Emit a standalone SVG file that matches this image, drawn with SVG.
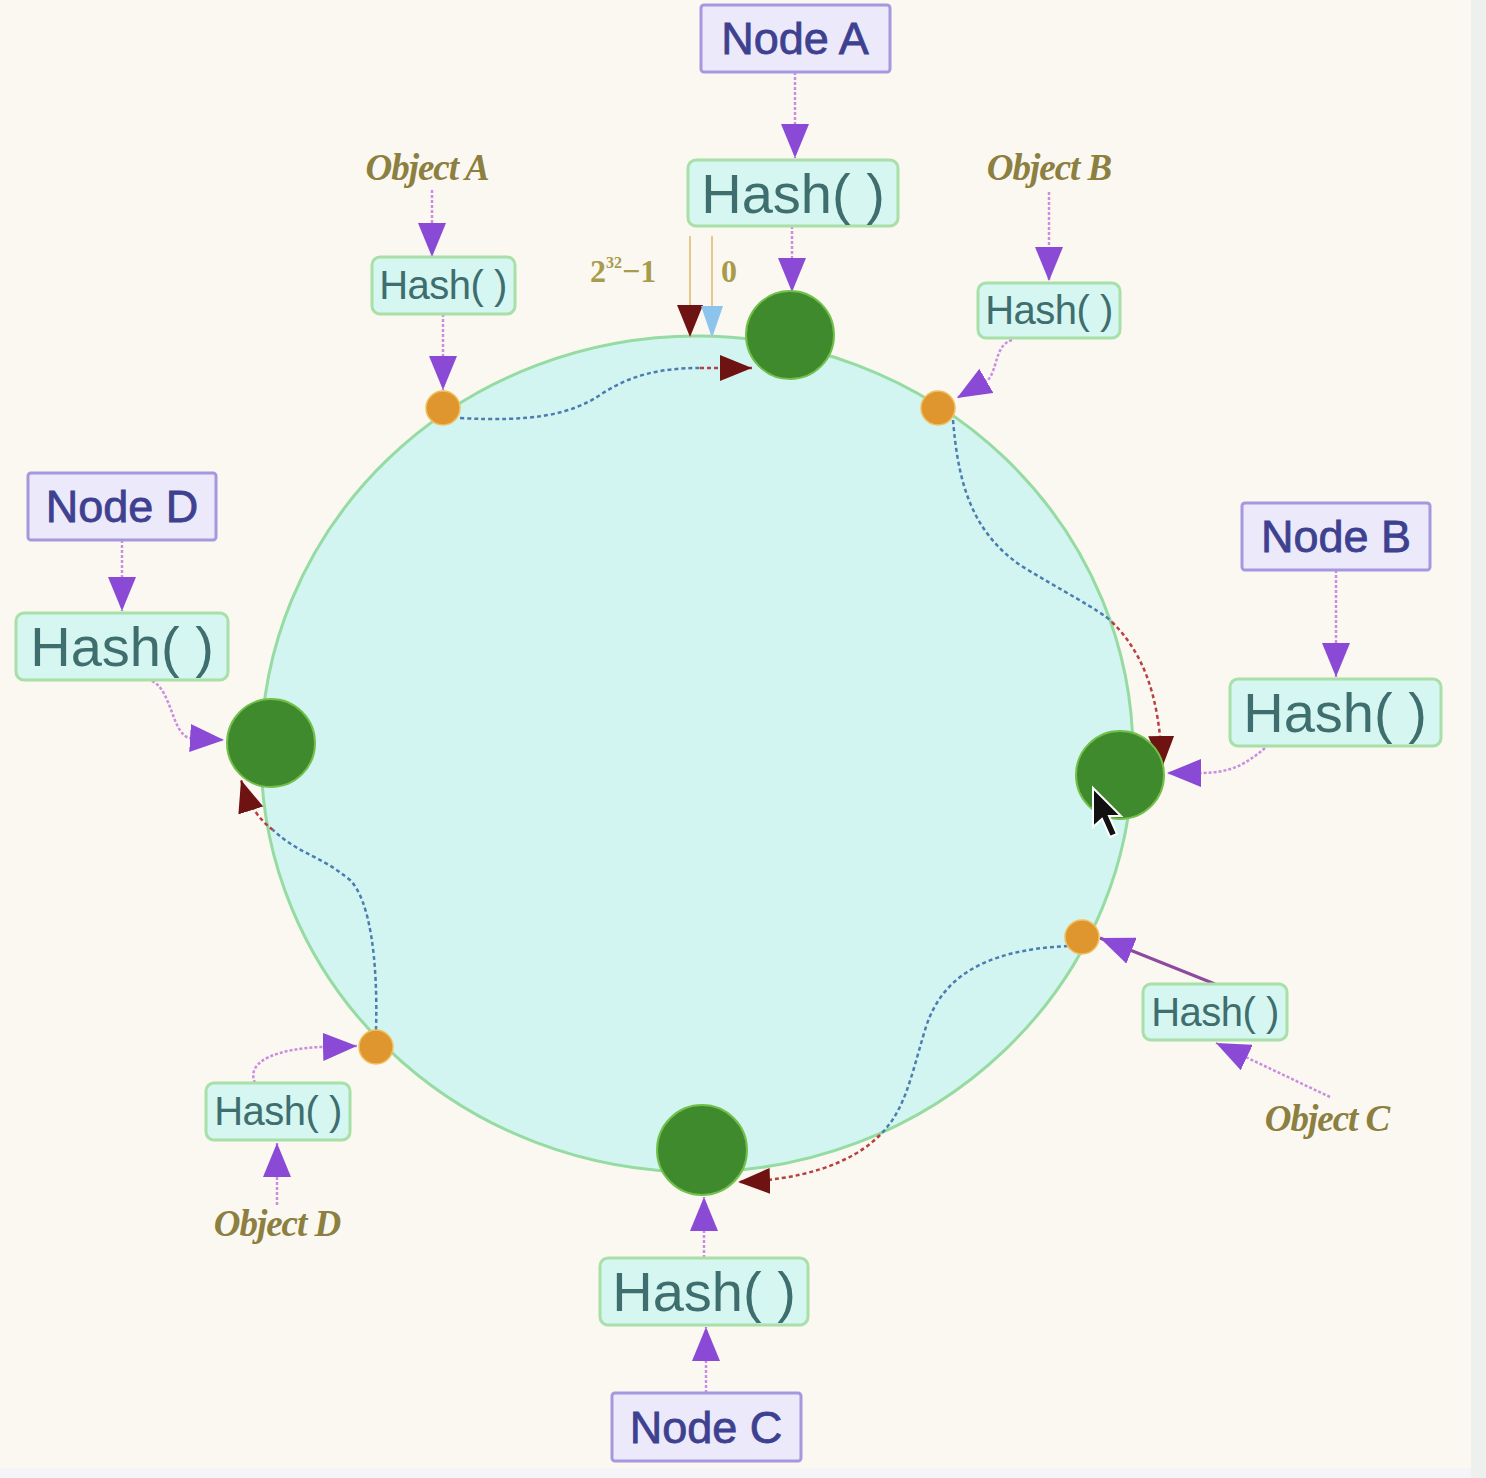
<svg xmlns="http://www.w3.org/2000/svg" width="1486" height="1478" viewBox="0 0 1486 1478">
<defs>
<style>
.bg{fill:#fbf8f2}
.ring{fill:#d3f5f1;stroke:#95dba2;stroke-width:3}
.nodebox{fill:#ece9fb;stroke:#a698de;stroke-width:3}
.hashbox{fill:#d6f6f2;stroke:#a8e0a8;stroke-width:3}
.nodetxt{font-family:"Liberation Sans",Arial,sans-serif;font-size:45px;fill:#3d418f;stroke:#3d418f;stroke-width:0.8;text-anchor:middle}
.hashbig{font-family:"Liberation Sans",Arial,sans-serif;font-size:56px;fill:#3e6e6e;text-anchor:middle}
.hashsm{font-family:"Liberation Sans",Arial,sans-serif;font-size:40px;fill:#3e6e6e;text-anchor:middle;letter-spacing:-0.5px}
.objtxt{font-family:"Liberation Serif","Times New Roman",serif;font-style:italic;font-weight:bold;font-size:37px;fill:#8c7f40;text-anchor:middle;letter-spacing:-1px}
.num{font-family:"Liberation Serif","Times New Roman",serif;font-weight:bold;font-size:32px;fill:#a89c4c}
.green{fill:#3f8a2c;stroke:#72c04c;stroke-width:2}
.orange{fill:#e0962e;stroke:#f0c060;stroke-width:1.5}
.pl{fill:none;stroke:#c98ee0;stroke-width:2.5;stroke-dasharray:3 2}
.plsolid{fill:none;stroke:#8e4a9c;stroke-width:3}
.bl{fill:none;stroke:#4c7cb0;stroke-width:2.5;stroke-dasharray:4 3}
.rl{fill:none;stroke:#b84040;stroke-width:2.5;stroke-dasharray:4 3}
</style>
<marker id="pa" viewBox="0 0 34 28" refX="34" refY="14" markerWidth="34" markerHeight="28" markerUnits="userSpaceOnUse" orient="auto"><path d="M0,0 L34,14 L0,28 z" fill="#8a4ad6"/></marker>
<marker id="ra" viewBox="0 0 32 26" refX="32" refY="13" markerWidth="32" markerHeight="26" markerUnits="userSpaceOnUse" orient="auto"><path d="M0,0 L32,13 L0,26 z" fill="#6e1212"/></marker>
<marker id="ba" viewBox="0 0 32 22" refX="32" refY="11" markerWidth="32" markerHeight="22" markerUnits="userSpaceOnUse" orient="auto"><path d="M0,0 L32,11 L0,22 z" fill="#8cc4ec"/></marker>
</defs>

<rect class="bg" x="0" y="0" width="1486" height="1478"/>
<rect x="1471" y="0" width="15" height="1478" fill="#eef0ee"/>
<rect x="0" y="1468" width="1471" height="10" fill="#f5f5f7"/>

<g id="ring">
<ellipse class="ring" cx="697" cy="754" rx="436" ry="418"/>
</g>

<g id="connectors">
<path class="pl" d="M795,72 L795,158" marker-end="url(#pa)"/>
<path class="pl" d="M792,226 L792,292" marker-end="url(#pa)"/>
<path class="pl" d="M432,190 L432,257" marker-end="url(#pa)"/>
<path class="pl" d="M443,314 L443,390" marker-end="url(#pa)"/>
<path class="pl" d="M1049,192 L1049,281" marker-end="url(#pa)"/>
<path class="pl" d="M1012,340 C995,345 998,368 988,380 L957,398" marker-end="url(#pa)"/>
<path class="pl" d="M1336,570 L1336,677" marker-end="url(#pa)"/>
<path class="pl" d="M1265,748 C1245,765 1230,773 1200,773 L1167,773" marker-end="url(#pa)"/>
<path class="plsolid" d="M1215,984 L1100,938" marker-end="url(#pa)"/>
<path class="pl" d="M1330,1097 L1216,1043" marker-end="url(#pa)"/>
<path class="pl" d="M277,1205 L277,1143" marker-end="url(#pa)"/>
<path class="pl" d="M255,1083 C245,1060 280,1049 320,1047 L357,1046" marker-end="url(#pa)"/>
<path class="pl" d="M706,1393 L706,1327" marker-end="url(#pa)"/>
<path class="pl" d="M704,1258 L704,1197" marker-end="url(#pa)"/>
<path class="pl" d="M122,540 L122,611" marker-end="url(#pa)"/>
<path class="pl" d="M152,681 C172,690 172,735 190,738 L224,740" marker-end="url(#pa)"/>
<path class="bl" d="M460,418 C530,422 570,415 600,395 C630,375 660,368 700,368"/>
<path class="rl" d="M700,368 L752,368" marker-end="url(#ra)"/>
<path class="bl" d="M953,420 C958,480 970,530 1020,565 C1060,590 1100,610 1112,622"/>
<path class="rl" d="M1112,622 C1140,650 1160,690 1162,768" marker-end="url(#ra)"/>
<path class="bl" d="M1068,946 C980,950 940,980 925,1030 C910,1080 905,1110 880,1135"/>
<path class="rl" d="M880,1135 C850,1165 800,1180 738,1182" marker-end="url(#ra)"/>
<path class="bl" d="M376,1030 C378,960 370,900 350,880 C320,855 300,855 273,830"/>
<path class="rl" d="M273,830 C260,820 250,808 241,780" marker-end="url(#ra)"/>
<path d="M690,236 L690,337" stroke="#e8c88a" stroke-width="2" fill="none" marker-end="url(#ra)"/>
<path d="M712,236 L712,338" stroke="#e8c88a" stroke-width="2" fill="none" marker-end="url(#ba)"/>
</g>

<g id="ring-labels">
<text class="num" x="590" y="282">2<tspan font-size="16" dy="-14">32</tspan><tspan dy="14">−1</tspan></text>
<text class="num" x="721" y="282">0</text>
</g>

<g id="nodeA">
<rect class="nodebox" x="701" y="5" width="189" height="67" rx="3"/>
<text class="nodetxt" x="795" y="54">Node A</text>
</g>
<g id="hashA">
<rect class="hashbox" x="688" y="160" width="210" height="66" rx="8"/>
<text class="hashbig" x="793" y="213">Hash( )</text>
</g>
<g id="pointA"><circle class="green" cx="790" cy="335" r="44"/></g>

<g id="nodeB">
<rect class="nodebox" x="1242" y="503" width="188" height="67" rx="3"/>
<text class="nodetxt" x="1336" y="552">Node B</text>
</g>
<g id="hashB">
<rect class="hashbox" x="1230" y="679" width="211" height="67" rx="8"/>
<text class="hashbig" x="1335" y="732">Hash( )</text>
</g>
<g id="pointB"><circle class="green" cx="1120" cy="775" r="44"/></g>

<g id="nodeC">
<rect class="nodebox" x="612" y="1393" width="189" height="68" rx="3"/>
<text class="nodetxt" x="706" y="1443">Node C</text>
</g>
<g id="hashC">
<rect class="hashbox" x="600" y="1258" width="208" height="67" rx="8"/>
<text class="hashbig" x="704" y="1311">Hash( )</text>
</g>
<g id="pointC"><circle class="green" cx="702" cy="1150" r="45"/></g>

<g id="nodeD">
<rect class="nodebox" x="28" y="473" width="188" height="67" rx="3"/>
<text class="nodetxt" x="122" y="522">Node D</text>
</g>
<g id="hashD">
<rect class="hashbox" x="16" y="613" width="212" height="67" rx="8"/>
<text class="hashbig" x="122" y="666">Hash( )</text>
</g>
<g id="pointD"><circle class="green" cx="271" cy="743" r="44"/></g>

<g id="objectA">
<text class="objtxt" x="427" y="180">Object A</text>
<rect class="hashbox" x="372" y="257" width="143" height="57" rx="8"/>
<text class="hashsm" x="443" y="299">Hash( )</text>
<circle class="orange" cx="443" cy="408" r="17"/>
</g>
<g id="objectB">
<text class="objtxt" x="1049" y="180">Object B</text>
<rect class="hashbox" x="978" y="283" width="142" height="55" rx="8"/>
<text class="hashsm" x="1049" y="324">Hash( )</text>
<circle class="orange" cx="938" cy="408" r="17"/>
</g>
<g id="objectC">
<text class="objtxt" x="1327" y="1131">Object C</text>
<rect class="hashbox" x="1143" y="984" width="144" height="56" rx="8"/>
<text class="hashsm" x="1215" y="1026">Hash( )</text>
<circle class="orange" cx="1082" cy="937" r="17"/>
</g>
<g id="objectD">
<text class="objtxt" x="277" y="1236">Object D</text>
<rect class="hashbox" x="206" y="1083" width="144" height="57" rx="8"/>
<text class="hashsm" x="278" y="1125">Hash( )</text>
<circle class="orange" cx="376" cy="1047" r="17"/>
</g>

<g id="cursor">
<path d="M1093,788 L1093,827 L1102,819 L1110,837 L1117,834 L1109,816 L1121,816 Z" fill="#111" stroke="#fff" stroke-width="2"/>
</g>
</svg>
